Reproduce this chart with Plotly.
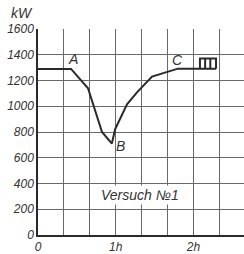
import plotly.graph_objects as go

# time in minutes, power in kW
time_min = [0, 25.5, 38.6, 49.4, 57, 59.5, 68.7, 76.4, 88, 97.3, 108, 137.4]
power_kw = [1290, 1290, 1140, 800, 710, 820, 1015, 1108, 1231, 1262, 1292, 1292]

pulse_t = [125, 125, 137.4, 137.4, None, 129, 129, None, 133, 133]
pulse_p = [1292, 1370, 1370, 1292, None, 1292, 1370, None, 1292, 1370]

y_ticks = [0, 200, 400, 600, 800, 1000, 1200, 1400, 1600]
x_grid = [0, 20, 40, 60, 80, 100, 120, 140]
x_text = ["0", "", "", "1h", "", "", "2h", ""]

labels = ["A", "B", "C"]
label_t = [27, 64, 108]
label_p = [1369, 692, 1361]

ink = "#2a2a2a"
font = dict(family="Liberation Sans, Arial, sans-serif", size=12, color="#333")

fig = go.Figure()
fig.add_trace(go.Scatter(x=time_min, y=power_kw, mode="lines",
                         line=dict(color=ink, width=2), showlegend=False))
fig.add_trace(go.Scatter(x=pulse_t, y=pulse_p, mode="lines",
                         line=dict(color=ink, width=2), showlegend=False))

for lab, t, p in zip(labels, label_t, label_p):
    fig.add_annotation(x=t, y=p, text=f"<i>{lab}</i>", showarrow=False,
                       font=dict(family=font["family"], size=14, color="#333"))

fig.add_annotation(x=78.8, y=308, text="<i>Versuch №1</i>", showarrow=False,
                   bgcolor="white",
                   font=dict(family=font["family"], size=14, color="#333"))
fig.add_annotation(x=-0.08, y=1.08, xref="paper", yref="paper", text="<i>kW</i>",
                   showarrow=False, xanchor="center", yanchor="middle",
                   font=dict(family=font["family"], size=14, color="#333"))

fig.update_layout(
    width=244, height=254,
    margin=dict(l=38, r=0, t=29, b=17),
    paper_bgcolor="white", plot_bgcolor="white",
    font=font,
    xaxis=dict(range=[0, 159], tickvals=x_grid, ticktext=[f"<i>{t}</i>" for t in x_text],
               showgrid=True, gridcolor="#6a6a6a", gridwidth=1,
               showline=True, linecolor=ink, linewidth=1.5, zeroline=False,
               ticks="", fixedrange=True),
    yaxis=dict(range=[0, 1600], tickvals=y_ticks, ticktext=[f"<i>{v}</i>" for v in y_ticks],
               showgrid=True, gridcolor="#6a6a6a", gridwidth=1,
               showline=True, linecolor=ink, linewidth=1.5, zeroline=False,
               ticks="", fixedrange=True),
)

fig.write_html("out.html", config={"displayModeBar": False},
               post_script="document.body.style.margin='0';document.body.style.overflow='hidden';")
